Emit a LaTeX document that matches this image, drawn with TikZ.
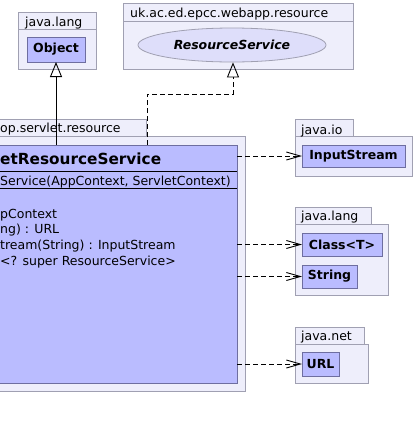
\documentclass[tikz,border=0pt]{standalone}
\usepackage{fontspec}
\setmainfont{DejaVu Sans}
\usetikzlibrary{arrows.meta,shapes.geometric}
\definecolor{pkgfill}{RGB}{238,238,251}
\definecolor{pkgline}{RGB}{160,160,178}
\definecolor{clsfill}{RGB}{186,188,255}
\definecolor{clsline}{RGB}{110,110,160}
\definecolor{ellfill}{RGB}{222,222,250}
\tikzset{
  box/.style={draw, inner sep=0pt, outer sep=0pt, anchor=north west, line width=0.8pt},
  pkg/.style={box, draw=pkgline, fill=pkgfill},
  cls/.style={box, draw=clsline, fill=clsfill, font=\fontsize{12.5}{15}\selectfont\bfseries},
  pkglabel/.style={anchor=base west, inner sep=0pt, font=\fontsize{12.5}{15}\selectfont},
  member/.style={anchor=base west, inner sep=0pt, font=\fontsize{12.5}{15}\selectfont},
  dep/.style={draw, line width=0.9pt, dash pattern=on 5pt off 3pt, -{Straight Barb[length=14pt,width=8pt]}},
  inh/.style={draw, line width=0.9pt, -{Triangle[open,length=15pt,width=12pt]}},
  real/.style={inh, dash pattern=on 5pt off 3pt},
}
\begin{document}
\begin{tikzpicture}[x=1pt,y=-1pt]
\useasboundingbox (0,0) rectangle (415,429);
\fill[white] (0,0) rectangle (415,429);
% top-left java.lang
\node[pkg, minimum width=78pt, minimum height=17pt] (jl1tab) at (18,12) {};
\node[pkg, minimum width=78pt, minimum height=40pt] (jl1) at (18,29) {};
\node[pkglabel] (jl1lab) at (25,26) {java.lang};
\node[cls, minimum width=58pt, minimum height=25pt] (obj) at (27,37) {Object};
% uk.ac.ed.epcc.webapp.resource
\node[pkg, minimum width=230pt, minimum height=18pt] (uktab) at (123,3) {};
\node[pkg, minimum width=230pt, minimum height=48pt] (uk) at (123,21) {};
\node[pkglabel] (uklab) at (130,17) {uk.ac.ed.epcc.webapp.resource};
\node[draw=pkgline, fill=ellfill, ellipse, line width=0.8pt, minimum width=188pt, minimum height=34pt, inner sep=0pt,
      font=\fontsize{12.5}{15}\selectfont\bfseries\itshape] (rs) at (232,45) {ResourceService};
% main package
\node[pkg, minimum width=156pt, minimum height=17pt] (mtab) at (-10,119) {};
\node[pkg, minimum width=255pt, minimum height=255pt] (mpkg) at (-10,136) {};
\node[pkglabel] (mlab) at (0,132) {op.servlet.resource};
\node[box, draw=clsline, fill=clsfill, minimum width=247pt, minimum height=238pt] (cls) at (-10,145) {};
\draw[line width=0.9pt] (cls.west |- 0,171) -- (cls.east |- 0,171);
\draw[line width=0.9pt] (cls.west |- 0,188) -- (cls.east |- 0,188);
\node[anchor=base west, inner sep=0pt, font=\fontsize{15.3}{18}\selectfont\bfseries] (cname) at (0,164) {etResourceService};
\node[member] (ctor) at (0,185) {Service(AppContext, ServletContext)};
\node[member] (m1) at (0,218) {pContext};
\node[member] (m2) at (0,233.8) {ng) : URL};
\node[member] (m3) at (0,249.8) {tream(String) : InputStream};
\node[member] (m4) at (0,265.5) {<? super ResourceService>};
% java.io
\node[pkg, minimum width=58pt, minimum height=17pt] (iotab) at (295,119) {};
\node[pkg, minimum width=117pt, minimum height=40pt] (io) at (295,136) {};
\node[pkglabel] (iolab) at (301,134) {java.io};
\node[cls, minimum width=103pt, minimum height=22pt] (is) at (302,145) {InputStream};
% java.lang right
\node[pkg, minimum width=76pt, minimum height=17pt] (jl2tab) at (295,207) {};
\node[pkg, minimum width=93pt, minimum height=71pt] (jl2) at (295,224) {};
\node[pkglabel] (jl2lab) at (301,220) {java.lang};
\node[cls, minimum width=80pt, minimum height=23pt] (clsT) at (302,233) {Class<T>};
\node[cls, minimum width=55pt, minimum height=23pt] (str) at (302,265) {String};
% java.net
\node[pkg, minimum width=69pt, minimum height=17pt] (nettab) at (295,327) {};
\node[pkg, minimum width=73pt, minimum height=39pt] (net) at (295,344) {};
\node[pkglabel] (netlab) at (301,340) {java.net};
\node[cls, minimum width=37pt, minimum height=24pt] (url) at (302,352) {URL};
% connectors
\draw[inh] (obj.south |- cls.north) -- (obj.south);
\coordinate (r1) at (147,94);
\coordinate (r2) at (233,94);
\draw[real] (r1 |- cls.north) -- (r1) -- (r2) -- (r2 |- rs.south);
\draw[dep] (cls.east |- is.west) -- (is.west);
\draw[dep] (cls.east |- clsT.west) -- (clsT.west);
\draw[dep] (cls.east |- str.west) -- (str.west);
\draw[dep] (cls.east |- url.west) -- (url.west);
\end{tikzpicture}
\end{document}
